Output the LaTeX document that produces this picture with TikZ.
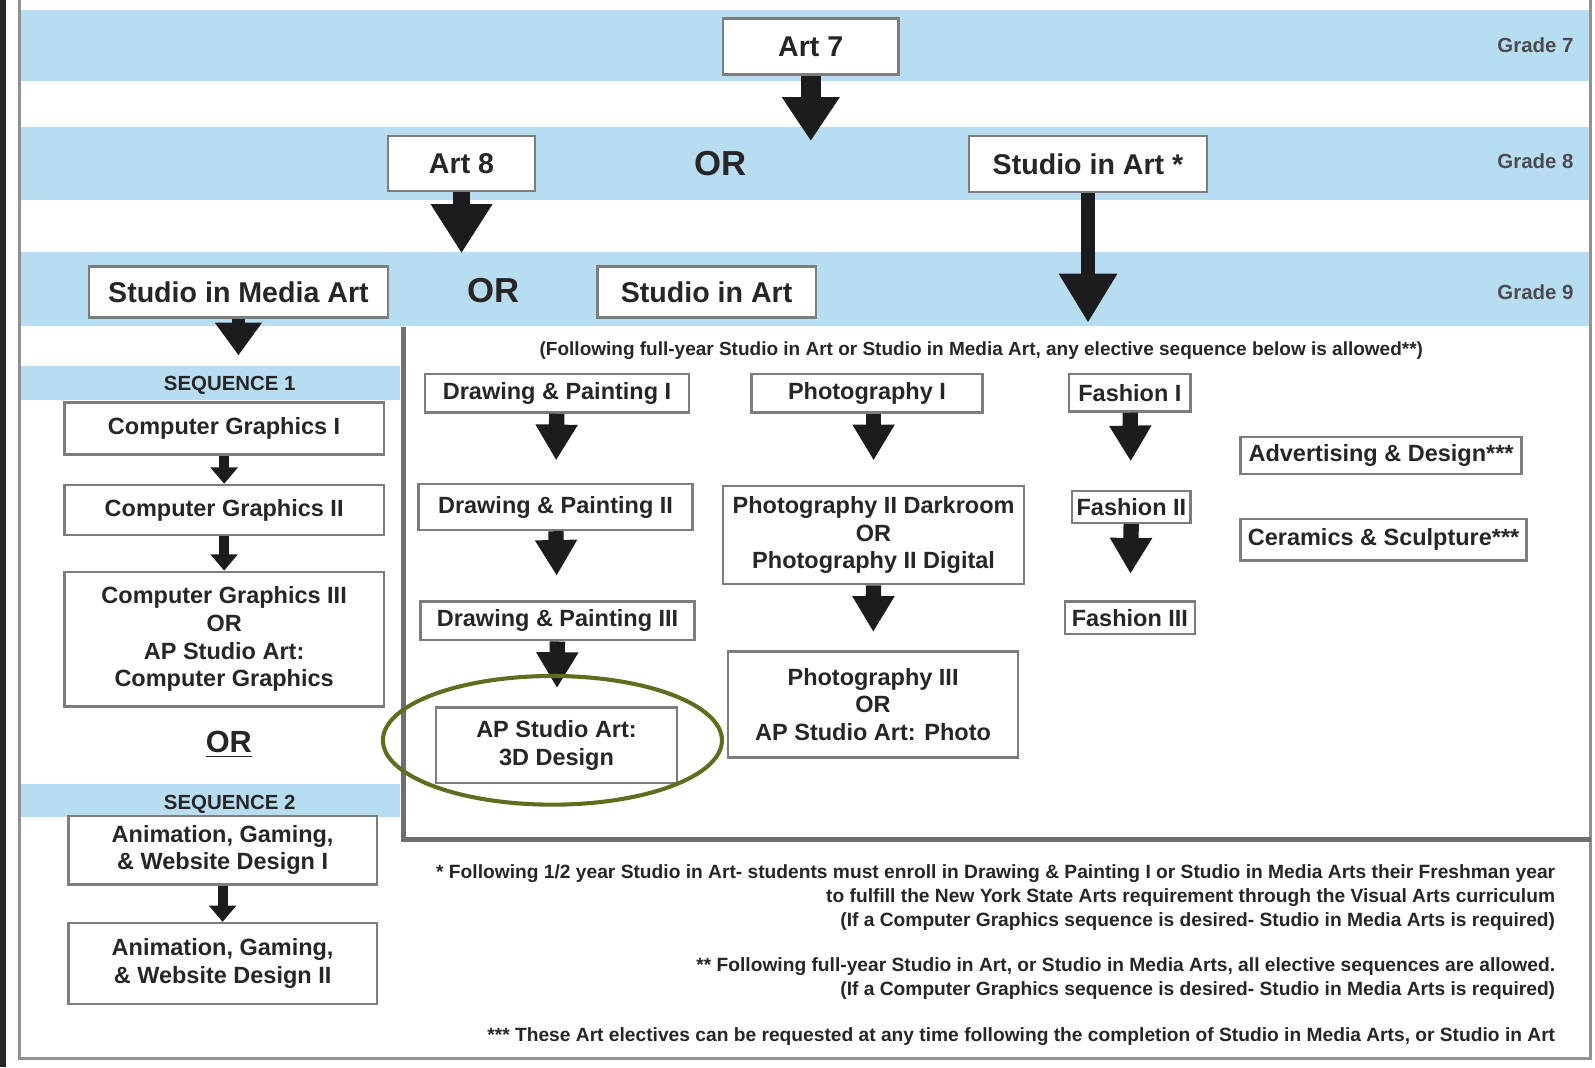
\documentclass[tikz,border=0pt]{standalone}
\usepackage{fontspec}
\setmainfont{Liberation Sans}
\usetikzlibrary{arrows.meta}
\definecolor{bandblue}{RGB}{184,220,240}
\definecolor{boxgray}{RGB}{125,125,125}
\definecolor{framegray}{RGB}{145,145,145}
\definecolor{panelgray}{RGB}{110,110,115}
\definecolor{arrowblack}{RGB}{28,28,30}
\definecolor{olivering}{RGB}{94,110,30}
\definecolor{textgray}{RGB}{75,75,80}
\begin{document}
\begin{tikzpicture}[x=0.5pt,y=-0.5pt,
  box/.style={draw=boxgray, line width=1.2pt, fill=white, align=center, inner sep=0pt, text=black!85, font=\bfseries\fontsize{11.5}{13.5}\selectfont},
  bigbox/.style={box, font=\bfseries\fontsize{14}{16}\selectfont},
  grade/.style={anchor=east, text=textgray, font=\bfseries\fontsize{10}{12}\selectfont},
  note/.style={anchor=east, align=right, text=black!85, font=\bfseries\fontsize{9.4}{11.7}\selectfont},
  seqlabel/.style={text=black!85, font=\bfseries\fontsize{10}{12}\selectfont},
  bigor/.style={text=black!85, font=\bfseries\fontsize{17}{19}\selectfont},
  fat/.style={draw=arrowblack, line width=7.5pt, -{Triangle[width=19.5pt,length=17.5pt]}},
  smallarrow/.style={draw=arrowblack, line width=5pt, -{Triangle[width=13pt,length=8pt]}}]
  \useasboundingbox (0,0) rectangle (1562,1045);
  \fill[bandblue] (19,10) rectangle (1558,79);
  \fill[bandblue] (19,124) rectangle (1558,196);
  \fill[bandblue] (19,247) rectangle (1558,319);
  \fill[bandblue] (19,358) rectangle (392,392);
  \fill[bandblue] (19,768) rectangle (392,800);
  \draw[framegray, line width=1.5pt] (19,0) -- (19,1037) -- (1558,1037) -- (1558,0);
  \fill[black!85] (0,0) rectangle (6,1045);
  \draw[panelgray, line width=2.2pt] (395,320) -- (395,822) -- (1558,822);

  \node[grade] (g7) at (1548,44) {Grade 7};
  \node[grade] (g8) at (1548,158) {Grade 8};
  \node[grade] (g9) at (1548,286) {Grade 9};

  \node[bigbox, minimum width=86pt, minimum height=27.5pt] (art7) at (794,45.5) {Art 7};
  \node[bigbox, minimum width=72pt, minimum height=27pt] (art8) at (452,160) {Art 8};
  \node[bigor] (or8) at (706,160) {OR};
  \node[bigbox, minimum width=116.5pt, minimum height=27.5pt] (sia8) at (1065.5,160.5) {Studio in Art *};
  \node[bigbox, minimum width=146.5pt, minimum height=25pt] (media) at (233.5,286) {Studio in Media Art};
  \node[bigor] (or9) at (483,285) {OR};
  \node[bigbox, minimum width=107pt, minimum height=25pt] (sia9) at (692,286) {Studio in Art};

  \coordinate (art7end) at (794,138);
  \coordinate (art8end) at (452,248);
  \coordinate (sia8end) at (1065.5,316);
  \coordinate (mediaend) at (233.5,348);
  \draw[fat, line width=10pt, -{Triangle[width=27pt,length=21.5pt]}] (art7) -- (art7end);
  \draw[fat, line width=8pt, -{Triangle[width=28.5pt,length=24pt]}] (art8) -- (art8end);
  \draw[fat, line width=7pt, -{Triangle[width=27pt,length=24pt]}] (sia8) -- (sia8end);
  \draw[fat, line width=6pt, -{Triangle[width=22pt,length=16pt]}] (media) -- (mediaend);

  \node[seqlabel] (seq1) at (225,377) {SEQUENCE 1};
  \node[box, minimum width=156.5pt, minimum height=25.5pt] (cg1) at (219.5,419.5) {Computer Graphics I};
  \node[box, minimum width=156.5pt, minimum height=24.5pt] (cg2) at (219.5,499.5) {Computer Graphics II};
  \node[box, minimum width=156.5pt, minimum height=66pt] (cg3) at (219.5,626) {Computer Graphics III\\OR\\AP Studio Art:\\Computer Graphics};
  \node[bigor, font=\bfseries\fontsize{15}{17}\selectfont] (orseq) at (224,729) {\underline{OR}};
  \node[seqlabel] (seq2) at (225,788) {SEQUENCE 2};
  \node[box, minimum width=151pt, minimum height=33.5pt] (agw1) at (218,832.5) {Animation, Gaming,\\\& Website Design I};
  \node[box, minimum width=151pt, minimum height=39.5pt] (agw2) at (218,943.5) {Animation, Gaming,\\\& Website Design II};
  \draw[smallarrow] (cg1) -- (cg2);
  \draw[smallarrow] (cg2) -- (cg3);
  \draw[smallarrow] (agw1) -- (agw2);

  \node[note, anchor=center, font=\bfseries\fontsize{9.3}{11}\selectfont] (allowed) at (961,343) {(Following full-year Studio in Art or Studio in Media Art, any elective sequence below is allowed**)};

  \node[box, minimum width=129.5pt, minimum height=19pt] (dp1) at (545.5,385) {Drawing \& Painting I};
  \node[box, minimum width=134pt, minimum height=22.5pt] (dp2) at (544,496.5) {Drawing \& Painting II};
  \node[box, minimum width=134pt, minimum height=19pt] (dp3) at (546,608) {Drawing \& Painting III};
  \node[box, minimum width=118pt, minimum height=37pt] (ap3d) at (545,730) {AP Studio Art:\\3D Design};
  \draw[fat, shorten >=11pt] (dp1) -- (dp2);
  \draw[fat, shorten >=12pt] (dp2) -- (dp3);
  \draw[fat, shorten >=9pt] (dp3) -- (ap3d);
  \draw[olivering, line width=2pt] (541,725) ellipse [x radius=83pt, y radius=31.5pt];

  \node[box, minimum width=113pt, minimum height=19pt] (ph1) at (849,385) {Photography I};
  \node[box, minimum width=147.5pt, minimum height=48pt] (ph2) at (855.5,524) {Photography II Darkroom\\OR\\Photography II Digital};
  \node[box, minimum width=142pt, minimum height=52pt] (ph3) at (855,690) {Photography III\\OR\\AP Studio Art: Photo};
  \draw[fat, shorten >=12pt] (ph1.south -| ph2) -- (ph2);
  \draw[fat, shorten >=9pt] (ph2) -- (ph3);

  \node[box, minimum width=59.5pt, minimum height=18.5pt] (fa1) at (1106.5,384.5) {Fashion I};
  \node[box, minimum width=58pt, minimum height=15.5pt] (fa2) at (1108,496.5) {Fashion II};
  \node[box, minimum width=63.5pt, minimum height=16pt] (fa3) at (1106.5,605) {Fashion III};
  \draw[fat, shorten >=14pt] (fa1) -- (fa2);
  \draw[fat, shorten >=13pt] (fa2) -- (fa3);

  \node[box, minimum width=137.5pt, minimum height=18pt] (adv) at (1352.5,446) {Advertising \& Design***};
  \node[box, minimum width=140pt, minimum height=20.5pt] (cer) at (1355,528.5) {Ceramics \& Sculpture***};

  \node[note] (fn1) at (1530,879) {* Following 1/2 year Studio in Art- students must enroll in Drawing \& Painting I or Studio in Media Arts their Freshman year\\to fulfill the New York State Arts requirement through the Visual Arts curriculum\\(If a Computer Graphics sequence is desired- Studio in Media Arts is required)};
  \node[note] (fn2) at (1530,958) {** Following full-year Studio in Art, or Studio in Media Arts, all elective sequences are allowed.\\(If a Computer Graphics sequence is desired- Studio in Media Arts is required)};
  \node[note] (fn3) at (1530,1015) {*** These Art electives can be requested at any time following the completion of Studio in Media Arts, or Studio in Art};
\end{tikzpicture}
\end{document}
